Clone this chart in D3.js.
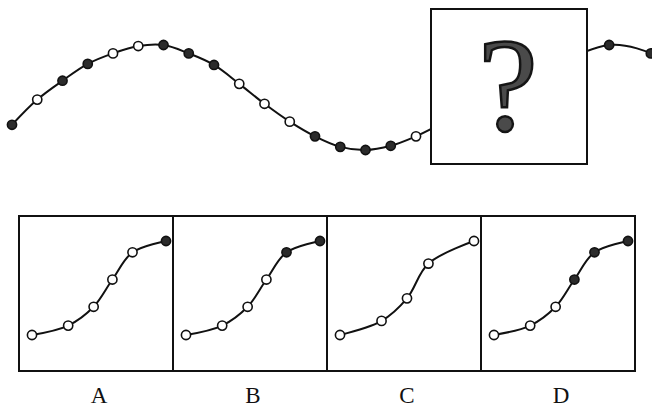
<!DOCTYPE html>
<html>
<head>
<meta charset="utf-8">
<script src="https://cdn.jsdelivr.net/npm/d3@7/dist/d3.min.js"></script>
<style>
  body { margin: 0; background: #fff; }
  svg { display: block; }
</style>
</head>
<body>
<svg width="652" height="408"></svg>
<script>
// top wave: position index, height (0-100), filled dot or not
const waveX = [0, 1, 2, 3, 4, 5, 6, 7, 8, 9, 10, 11, 12, 13, 14, 15, 16, 23.65, 25.3];
const waveY = [24, 48, 66, 82, 92, 99, 100, 92, 81, 63, 44, 27, 13, 3, 0, 4, 13, 100, 92];
const waveFill = [1, 0, 1, 1, 0, 0, 1, 1, 1, 0, 0, 0, 1, 1, 1, 1, 0, 1, 1];

// answer options
const options = ["A", "B", "C", "D"];
const optX = [0, 27, 46, 60, 75, 100];
const optY = [0, 10, 30, 59, 88, 100];
const optXC = [0, 31, 50, 66, 100];
const optYC = [0, 15, 39, 76, 100];
const optFill = {
    A: [0, 0, 0, 0, 0, 1],
    B: [0, 0, 0, 0, 1, 1],
    C: [0, 0, 0, 0, 0],
    D: [0, 0, 0, 1, 1, 1]
};

let svg = d3.select("svg");

let ink = "#111";
let dotFill = "#2b2b2b";
let serif = "'Times New Roman', 'Liberation Serif', serif";

// --- top wave ---
let x = d3.scaleLinear().domain([0, 16]).range([12, 416]);
let y = d3.scaleLinear().domain([0, 100]).range([150, 45]);

let wave = waveX.map((d, i) => ({ x: d, y: waveY[i], f: waveFill[i] }));

let line = d3
    .line()
    .x((d) => x(d.x))
    .y((d) => y(d.y))
    .curve(d3.curveCatmullRom.alpha(0.5));

svg.append("path")
    .datum(wave)
    .attr("d", line)
    .attr("fill", "none")
    .attr("stroke", ink)
    .attr("stroke-width", 2);

svg.append("g")
    .selectAll("circle")
    .data(wave)
    .enter()
    .append("circle")
    .attr("cx", (d) => x(d.x))
    .attr("cy", (d) => y(d.y))
    .attr("r", 4.6)
    .attr("fill", (d) => (d.f ? dotFill : "#fff"))
    .attr("stroke", ink)
    .attr("stroke-width", 1.6);

// question box covers the missing part
svg.append("rect")
    .attr("x", 431)
    .attr("y", 9)
    .attr("width", 156)
    .attr("height", 155)
    .attr("fill", "#fff")
    .attr("stroke", ink)
    .attr("stroke-width", 2);

svg.append("text")
    .attr("x", 508)
    .attr("y", 130)
    .attr("text-anchor", "middle")
    .attr("font-family", serif)
    .attr("font-size", 134)
    .attr("fill", "#4a4a4a")
    .attr("stroke", "#151515")
    .attr("stroke-width", 2.5)
    .text("?");

// --- options ---
let band = d3.scaleBand().domain(options).range([19, 635]);
let px = d3.scaleLinear().domain([0, 100]).range([13, 147]);
let py = d3.scaleLinear().domain([0, 100]).range([335, 241]);

let panel = svg
    .append("g")
    .selectAll("g")
    .data(options)
    .enter()
    .append("g")
    .attr("transform", (d) => `translate(${band(d)},0)`);

panel.append("rect")
    .attr("x", 0)
    .attr("y", 216)
    .attr("width", band.bandwidth())
    .attr("height", 155)
    .attr("fill", "none")
    .attr("stroke", ink)
    .attr("stroke-width", 2);

let pts = (name) => {
    let xs = name === "C" ? optXC : optX;
    let ys = name === "C" ? optYC : optY;
    return xs.map((v, i) => ({ x: v, y: ys[i], f: optFill[name][i] }));
};

let pline = d3
    .line()
    .x((d) => px(d.x))
    .y((d) => py(d.y))
    .curve(d3.curveCatmullRom.alpha(0.5));

panel.append("path")
    .attr("d", (d) => pline(pts(d)))
    .attr("fill", "none")
    .attr("stroke", ink)
    .attr("stroke-width", 2);

panel.selectAll("circle")
    .data((d) => pts(d))
    .enter()
    .append("circle")
    .attr("cx", (d) => px(d.x))
    .attr("cy", (d) => py(d.y))
    .attr("r", 4.6)
    .attr("fill", (d) => (d.f ? dotFill : "#fff"))
    .attr("stroke", ink)
    .attr("stroke-width", 1.6);

panel.append("text")
    .attr("x", band.bandwidth() / 2 + 3)
    .attr("y", 403)
    .attr("text-anchor", "middle")
    .attr("font-family", serif)
    .attr("font-size", 23)
    .attr("fill", ink)
    .text((d) => d);
</script>
</body>
</html>
